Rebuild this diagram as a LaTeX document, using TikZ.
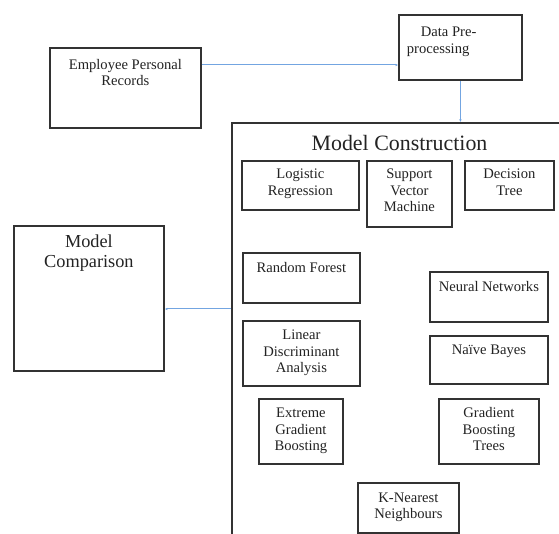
\documentclass[tikz,border=0pt]{standalone}
\usepackage{fontspec}
\setmainfont{Liberation Serif}
\usetikzlibrary{arrows.meta}
\definecolor{boxgray}{RGB}{50,50,50}
\definecolor{txtgray}{RGB}{35,35,35}
\definecolor{linkblue}{RGB}{115,165,225}
\tikzset{
  box/.style={draw=boxgray, line width=1.8pt, inner sep=0pt, text=txtgray,
    font=\rmfamily\fontsize{14.6}{16.5}\selectfont},
  conn/.style={draw=linkblue, line width=1pt, -{Latex[length=2.5pt,width=2.5pt]}},
}
\newcommand\fbx[6]{\node[box,anchor=north west] (#1) at (#2) {\parbox[c][#4][t]{#3}{\centering\rule{0pt}{#5}#6}};}
\begin{document}
\begin{tikzpicture}[x=1pt,y=-1pt]
\useasboundingbox[fill=white] (0,0) rectangle (559,534);
% outer container (cut by the frame)
\begin{scope}
  \clip (0,0) rectangle (559,534);
  \node[draw=boxgray, line width=1.8pt, anchor=north west, inner sep=0pt,
        minimum width=420pt, minimum height=460pt] (mc) at (231,122) {};
\end{scope}
\node[font=\rmfamily\fontsize{21.9}{24}\selectfont, text=txtgray, anchor=base, inner sep=0pt] (title) at (399.5,151) {Model Construction};
% top boxes
\fbx{emp}{49,47}{151pt}{80pt}{21.5pt}{Employee Personal\\Records}
\node[box,anchor=north west] (data) at (398,14)
  {\parbox[c][65pt][t]{123pt}{\raggedright\leftskip=8pt\rule{0pt}{22pt}\hspace*{14pt}Data Pre-\\processing}};
\node[box,anchor=north west, font=\rmfamily\fontsize{18.3}{20}\selectfont] (cmp) at (13,225)
  {\parbox[c][145pt][t]{150pt}{\centering\rule{0pt}{22pt}Model\\Comparison}};
% inner boxes
\fbx{lr}{241,160}{117pt}{49pt}{18pt}{Logistic\\Regression}
\fbx{svm}{366,160}{85pt}{66pt}{18pt}{Support\\Vector\\Machine}
\fbx{dt}{464,160}{89pt}{49pt}{18pt}{Decision\\Tree}
\fbx{rf}{242,252}{117pt}{50pt}{19.5pt}{Random Forest}
\fbx{nn}{429,271}{118pt}{50pt}{19.5pt}{Neural Networks}
\fbx{lda}{242,320}{117pt}{65pt}{19pt}{Linear\\Discriminant\\Analysis}
\fbx{nb}{429,335}{118pt}{48pt}{19pt}{Naïve Bayes}
\fbx{xgb}{258,398}{84pt}{65pt}{18.7pt}{Extreme\\Gradient\\Boosting}
\fbx{gbt}{438,398}{100pt}{65pt}{18.7pt}{Gradient\\Boosting\\Trees}
\fbx{knn}{357,482}{101pt}{50pt}{19.5pt}{K-Nearest\\Neighbours}
% connectors
\coordinate (r1) at (300,65);
\coordinate (r2) at (200,309);
\draw[conn] (r1 -| emp.east) -- (r1 -| data.west);
\draw[conn] (data.south) -- (data.south |- mc.north);
\draw[conn] (r2 -| mc.west) -- (r2 -| cmp.east);
\end{tikzpicture}
\end{document}
